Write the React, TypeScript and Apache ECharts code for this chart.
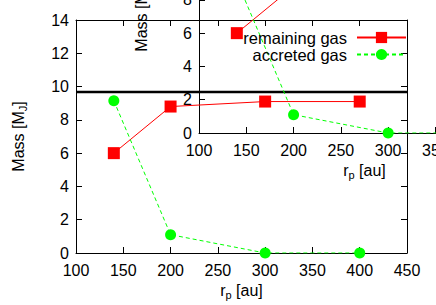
import React, { useEffect, useRef } from "react";
import * as echarts from "echarts";

const rp = [140, 200, 300, 400];
const remainingGas = [6.0, 8.8, 9.1, 9.1];
const accretedGas = [9.15, 1.1, 0.0, 0.0];
const refLineX = [100, 450];
const refLineY = [9.67, 9.67];
const xTicks = { min: 100, max: 450, interval: 50 };
const yTicks = { min: 0, max: 14, interval: 2 };

const FONT = "'Liberation Sans', Arial, Helvetica, sans-serif";

export default function App() {
  const ref = useRef<HTMLDivElement>(null);
  useEffect(() => {
    document.body.style.margin = "0";
    const chart = echarts.init(ref.current!, null, { renderer: "svg" });
    const grids = [
      { left: 76, top: 20, width: 331, height: 233 },
      { left: 199, top: -100, width: 331, height: 233 },
    ];
    const xAxis: any[] = [];
    const yAxis: any[] = [];
    const series: any[] = [];
    const lineAx = { show: true, onZero: false, lineStyle: { color: "#000", width: 1 } };
    const tick = { show: true, inside: true, length: 6, lineStyle: { color: "#000" } };
    grids.forEach((g, gi) => {
      xAxis.push({
        gridIndex: gi, type: "value", position: "bottom", ...xTicks,
        axisLine: lineAx, axisTick: tick, splitLine: { show: false },
        axisLabel: { color: "#000", fontSize: 16, fontFamily: FONT, margin: 9 },
        name: "{n|r}{s|p}{n| [au]}", nameLocation: "middle", nameGap: 27,
        nameTextStyle: {
          color: "#000", fontFamily: FONT,
          rich: {
            n: { fontSize: 16, fontFamily: FONT, color: "#000" },
            s: { fontSize: 11, fontFamily: FONT, color: "#000", padding: [8, 0, 0, 0] },
          },
        },
      });
      xAxis.push({
        gridIndex: gi, type: "value", position: "top", ...xTicks,
        axisLine: lineAx, axisTick: tick, splitLine: { show: false },
        axisLabel: { show: false },
      });
      yAxis.push({
        gridIndex: gi, type: "value", position: "left", ...yTicks,
        axisLine: lineAx, axisTick: tick, splitLine: { show: false },
        axisLabel: { color: "#000", fontSize: 16, fontFamily: FONT, margin: 7 },
        name: "{n|Mass [M}{s|J}{n|]}", nameLocation: "middle", nameGap: 48, nameRotate: 90,
        nameTextStyle: {
          color: "#000", fontFamily: FONT,
          rich: {
            n: { fontSize: 16, fontFamily: FONT, color: "#000" },
            s: { fontSize: 11, fontFamily: FONT, color: "#000", padding: [8, 0, 0, 0] },
          },
        },
      });
      yAxis.push({
        gridIndex: gi, type: "value", position: "right", ...yTicks,
        axisLine: lineAx, axisTick: tick, splitLine: { show: false },
        axisLabel: { show: false },
      });
      series.push({
        name: "remaining gas", type: "line", xAxisIndex: gi * 2, yAxisIndex: gi * 2,
        data: rp.map((x, i) => [x, remainingGas[i]]),
        symbol: "rect", symbolSize: 12,
        itemStyle: { color: "#ff0000" }, lineStyle: { color: "#ff0000", width: 1 },
      });
      series.push({
        name: "accreted gas", type: "line", xAxisIndex: gi * 2, yAxisIndex: gi * 2,
        data: rp.map((x, i) => [x, accretedGas[i]]),
        symbol: "circle", symbolSize: 11,
        itemStyle: { color: "#00ff00" }, lineStyle: { color: "#00ff00", width: 1, type: [4, 3] },
      });
      series.push({
        name: "ref", type: "line", xAxisIndex: gi * 2, yAxisIndex: gi * 2,
        data: refLineX.map((x, i) => [x, refLineY[i]]),
        symbol: "none", lineStyle: { color: "#000", width: 2.5 },
      });
    });
    chart.setOption({
      animation: false,
      backgroundColor: "#fff",
      grid: grids.map((g) => ({ ...g, containLabel: false, outerBoundsMode: "none" })),
      xAxis, yAxis, series,
      legend: {
        data: ["remaining gas", "accreted gas"],
        orient: "vertical", align: "right", right: 29, top: 29, padding: 0,
        itemWidth: 49, itemHeight: 14, itemGap: 0,
        textStyle: { fontSize: 16.5, lineHeight: 17, fontFamily: FONT, color: "#000", padding: [0, 5, 0, 0] },
        selectedMode: false,
      },
    });
    return () => chart.dispose();
  }, []);
  return <div ref={ref} style={{ width: 436, height: 305 }} />;
}
